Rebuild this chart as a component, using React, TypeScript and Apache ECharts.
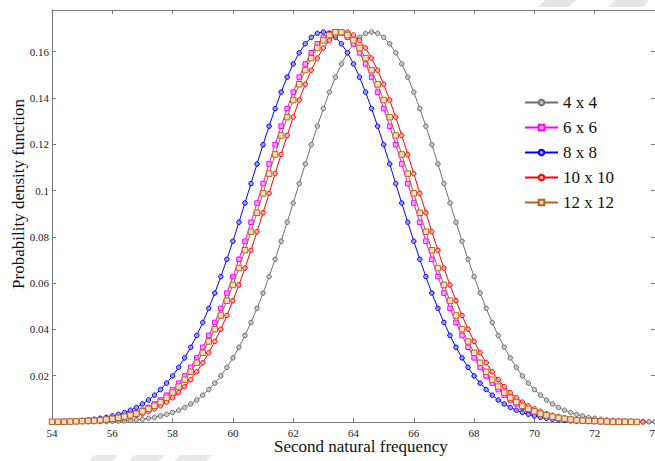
import React, { useEffect, useRef } from "react";
import * as echarts from "echarts";

// sampling grid of second natural frequency (54 → 74, step 0.2)
const freq: number[] = Array.from({ length: 101 }, (_, i) => +(54 + 0.2 * i).toFixed(1));

const xTicks = { min: 54, max: 74, interval: 2 };
const yTicks = { min: 0, max: 0.178, interval: 0.02 };

const legendNames = ["4 x 4", "6 x 6", "8 x 8", "10 x 10", "12 x 12"];

const pdf4x4 = [0,0,0,0,.0001,.0001,.0001,.0001,.0002,.0002,.0003,.0004,.0005,.0007,.0009,.0012,.0016,.0020,.0026,.0033,.0041,.0051,.0063,.0078,.0095,.0116,.0140,.0168,.0199,.0236,.0277,.0323,.0374,.0430,.0491,.0557,.0628,.0703,.0781,.0863,.0946,.1030,.1115,.1198,.1278,.1354,.1425,.1490,.1547,.1595,.1634,.1662,.1679,.1685,
  .1679,.1662,.1634,.1595,.1547,.1490,.1425,.1354,.1278,.1198,.1115,.1030,.0946,.0863,.0781,.0703,.0628,.0557,.0491,.0430,.0374,.0323,.0277,.0236,.0199,.0168,.0140,.0116,.0095,.0078,.0063,.0051,.0041,.0033,.0026,.0020,.0016,.0012,.0009,.0007,.0005,.0004,.0003,.0002,.0002,.0001,.0001];

const pdf8x8 = [.0002,.0002,.0003,.0004,.0005,.0007,.0009,.0012,.0016,.0020,.0026,.0033,.0041,.0051,.0063,.0078,.0095,.0116,.0140,.0168,.0199,.0236,.0277,.0323,.0374,.0430,.0491,.0557,.0628,.0703,.0781,.0863,.0946,.1030,.1115,.1198,.1278,.1354,.1425,.1490,.1547,.1595,.1634,.1662,.1679,.1685,
  .1679,.1662,.1634,.1595,.1547,.1490,.1425,.1354,.1278,.1198,.1115,.1030,.0946,.0863,.0781,.0703,.0628,.0557,.0491,.0430,.0374,.0323,.0277,.0236,.0199,.0168,.0140,.0116,.0095,.0078,.0063,.0051,.0041,.0033,.0026,.0020,.0016,.0012,.0009,.0007,.0005,.0004,.0003,.0002,.0002,.0001,.0001,.0001,.0001];

const pdf6x6 = [.0001,.0001,.0002,.0002,.0003,.0004,.0005,.0007,.0009,.0012,.0016,.0020,.0026,.0033,.0041,.0051,.0063,.0078,.0095,.0116,.0140,.0168,.0199,.0236,.0277,.0323,.0374,.0430,.0491,.0557,.0628,.0703,.0781,.0863,.0946,.1030,.1115,.1198,.1278,.1354,.1425,.1490,.1547,.1595,.1634,.1662,.1679,.1685,
  .1679,.1662,.1634,.1595,.1547,.1490,.1425,.1354,.1278,.1198,.1115,.1030,.0946,.0863,.0781,.0703,.0628,.0557,.0491,.0430,.0374,.0323,.0277,.0236,.0199,.0168,.0140,.0116,.0095,.0078,.0063,.0051,.0041,.0033,.0026,.0020,.0016,.0012,.0009,.0007,.0005,.0004,.0003,.0002,.0002,.0001,.0001,.0001,.0001];

const pdf12x12 = [.0001,.0001,.0001,.0002,.0003,.0004,.0005,.0006,.0008,.0011,.0014,.0018,.0023,.0029,.0036,.0046,.0057,.0070,.0086,.0105,.0127,.0153,.0183,.0217,.0256,.0299,.0348,.0401,.0460,.0524,.0592,.0665,.0742,.0822,.0904,.0988,.1073,.1156,.1238,.1317,.1391,.1459,.1520,.1572,.1616,.1649,.1672,.1684,
  .1684,.1672,.1649,.1616,.1572,.1520,.1459,.1391,.1317,.1238,.1156,.1073,.0988,.0904,.0822,.0742,.0665,.0592,.0524,.0460,.0401,.0348,.0299,.0256,.0217,.0183,.0153,.0127,.0105,.0086,.0070,.0057,.0046,.0036,.0029,.0023,.0018,.0014,.0011,.0008,.0006,.0005,.0004,.0003,.0002,.0001,.0001,.0001,.0001,0];

const pdf10x10 = [.0001,.0001,.0001,.0001,.0002,.0003,.0004,.0005,.0006,.0008,.0011,.0014,.0018,.0023,.0029,.0036,.0046,.0057,.0070,.0086,.0105,.0127,.0153,.0183,.0217,.0256,.0299,.0348,.0401,.0460,.0524,.0592,.0665,.0742,.0822,.0904,.0988,.1073,.1156,.1238,.1317,.1391,.1459,.1520,.1572,.1616,.1649,.1672,.1684,
  .1684,.1672,.1649,.1616,.1572,.1520,.1459,.1391,.1317,.1238,.1156,.1073,.0988,.0904,.0822,.0742,.0665,.0592,.0524,.0460,.0401,.0348,.0299,.0256,.0217,.0183,.0153,.0127,.0105,.0086,.0070,.0057,.0046,.0036,.0029,.0023,.0018,.0014,.0011,.0008,.0006,.0005,.0004,.0003,.0002,.0001,.0001,.0001,.0001,0];

const FONT = "Liberation Serif";
const AXIS_COLOR = "#7a7a7a";

function pairs(ys: number[]) {
  return ys.map((y, i) => [freq[i], y]);
}

function lineSeries(name: string, ys: number[], line: string, fill: string, symbol: string, size: number, z: number) {
  return {
    type: "line",
    name,
    data: pairs(ys),
    showSymbol: true,
    symbol,
    symbolSize: size,
    lineStyle: { color: line, width: 1 },
    itemStyle: { color: fill, borderColor: line, borderWidth: 1 },
    z,
  };
}

export default function App() {
  const ref = useRef<HTMLDivElement>(null);
  useEffect(() => {
    if (!ref.current) return;
    const chart = echarts.init(ref.current, undefined, { renderer: "svg" });
    const baseAxis = {
      axisLine: { show: true, onZero: false, lineStyle: { color: AXIS_COLOR, width: 1 } },
      axisTick: { show: true, inside: true, length: 4, lineStyle: { color: AXIS_COLOR } },
      splitLine: { show: false },
    };
    chart.setOption({
      animation: false,
      backgroundColor: "#ffffff",
      textStyle: { fontFamily: FONT },
      grid: { left: 52, top: 10, right: 0, bottom: 39, containLabel: false, outerBoundsMode: "none" },
      legend: {
        data: legendNames,
        orient: "vertical",
        left: 519,
        top: 89,
        itemWidth: 33,
        itemHeight: 7,
        itemGap: 8,
        textStyle: { fontFamily: FONT, fontSize: 17, color: "#111" },
        backgroundColor: "transparent",
      },
      xAxis: [
        {
          type: "value",
          position: "bottom",
          ...xTicks,
          ...baseAxis,
          axisLabel: { fontFamily: FONT, fontSize: 11, color: "#222", margin: 5, showMaxLabel: true, hideOverlap: false },
        },
        {
          type: "value",
          position: "top",
          ...xTicks,
          ...baseAxis,
          axisLabel: { show: false },
        },
      ],
      yAxis: [
        {
          type: "value",
          position: "left",
          ...yTicks,
          ...baseAxis,
          axisLabel: {
            fontFamily: FONT,
            fontSize: 11,
            color: "#222",
            margin: 3,
            showMaxLabel: false,
            formatter: (v: number) => (v === 0 ? "" : String(+v.toFixed(2))),
          },
        },
        {
          type: "value",
          position: "right",
          ...yTicks,
          ...baseAxis,
          axisLabel: { show: false },
        },
      ],
      series: [
        lineSeries("4 x 4", pdf4x4, "#6e6e6e", "#c8c8c8", "circle", 4.5, 2),
        lineSeries("6 x 6", pdf6x6, "#ff00ff", "#ffa8ff", "rect", 4.5, 3),
        lineSeries("8 x 8", pdf8x8, "#0000ff", "#9a9aff", "circle", 4.5, 4),
        lineSeries("10 x 10", pdf10x10, "#ff0000", "#ffb4b4", "circle", 4.5, 5),
        lineSeries("12 x 12", pdf12x12, "#b8651b", "#f3dcc6", "rect", 5.5, 6),
      ],
      graphic: [
        {
          type: "text",
          left: 274,
          top: 438,
          style: { text: "Second natural frequency", fontFamily: FONT, fontSize: 17, fill: "#111" },
        },
        {
          type: "text",
          x: 18,
          y: 194,
          rotation: Math.PI / 2,
          style: {
            text: "Probability density function",
            fontFamily: FONT,
            fontSize: 17,
            fill: "#111",
            align: "center",
            verticalAlign: "middle",
          },
        },
        { type: "polygon", shape: { points: [[545, 0], [576, 0], [569, 7], [538, 7]] }, style: { fill: "#e6e6e6" }, z: -1 },
        { type: "polygon", shape: { points: [[615, 0], [649, 0], [643, 7], [608, 7]] }, style: { fill: "#e6e6e6" }, z: -1 },
        { type: "polygon", shape: { points: [[95, 455], [118, 455], [112, 461], [89, 461]] }, style: { fill: "#e8e8e8" }, z: -1 },
        { type: "polygon", shape: { points: [[135, 455], [165, 455], [159, 461], [129, 461]] }, style: { fill: "#e8e8e8" }, z: -1 },
        { type: "polygon", shape: { points: [[180, 455], [212, 455], [206, 461], [174, 461]] }, style: { fill: "#e8e8e8" }, z: -1 },
      ],
    });
    return () => chart.dispose();
  }, []);
  return (
    <div
      ref={ref}
      style={{ position: "absolute", left: 0, top: 0, width: 655, height: 461 }}
    />
  );
}
